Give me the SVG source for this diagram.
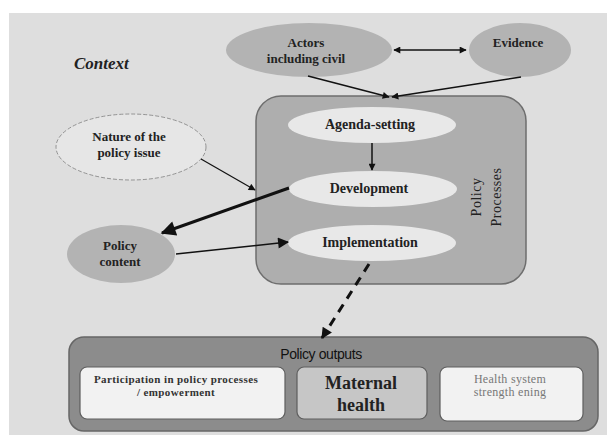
<svg xmlns="http://www.w3.org/2000/svg" width="615" height="435" viewBox="0 0 615 435">
<defs>
<style>
.serif{font-family:"Liberation Serif","Times New Roman",serif;}
.b{font-weight:bold;}
.t13{font-size:13px;}
.t14{font-size:14px;}
.oval{fill:#b3b3b3;stroke:none;}
.inner{fill:#e8e8e8;stroke:none;}
.conn{fill:none;stroke:#111;}
</style>
<marker id="sm" viewBox="0 0 10 10" refX="9" refY="5" markerWidth="8" markerHeight="7" markerUnits="userSpaceOnUse" orient="auto-start-reverse">
<path d="M0,0 L10,5 L0,10 z" fill="#111"/>
</marker>
<marker id="md" viewBox="0 0 10 10" refX="9" refY="5" markerWidth="14" markerHeight="11" markerUnits="userSpaceOnUse" orient="auto">
<path d="M0,0 L10,5 L0,10 z" fill="#111"/>
</marker>
<marker id="lg" viewBox="0 0 10 10" refX="9" refY="5" markerWidth="18" markerHeight="15" markerUnits="userSpaceOnUse" orient="auto">
<path d="M0,0 L10,5 L0,10 z" fill="#111"/>
</marker>
</defs>
<rect x="0" y="0" width="615" height="435" fill="#ffffff"/>
<rect x="9" y="13" width="598" height="422" fill="#dedede"/>
<text x="74" y="69" class="serif b" font-style="italic" font-size="17" fill="#222">Context</text>

<g id="actors">
<ellipse cx="309" cy="50" rx="83" ry="27" class="oval"/>
<text class="serif b t13" text-anchor="middle" fill="#222"><tspan x="306" y="47">Actors</tspan><tspan x="306" y="63">including  civil</tspan></text>
</g>
<g id="evidence">
<ellipse cx="520" cy="50" rx="51" ry="27" class="oval"/>
<text x="518" y="47" class="serif b t13" text-anchor="middle" fill="#222">Evidence</text>
</g>

<g id="policy-processes">
<rect x="256" y="96" width="270" height="188" rx="25" ry="25" fill="#aeaeae" stroke="#6e6e6e" stroke-width="1.5"/>
<text class="serif t14" text-anchor="middle" fill="#222" transform="translate(481,197) rotate(-90)" letter-spacing="0.5"><tspan x="0" y="0">Policy</tspan><tspan x="0" y="20">Processes</tspan></text>
</g>
<g id="agenda">
<ellipse cx="372" cy="125" rx="84" ry="18" class="inner"/>
<text x="370" y="129" class="serif b t14" text-anchor="middle" fill="#222">Agenda-setting</text>
</g>
<g id="development">
<ellipse cx="373" cy="189" rx="84" ry="18" class="inner"/>
<text x="369" y="193" class="serif b t14" text-anchor="middle" fill="#222">Development</text>
</g>
<g id="implementation">
<ellipse cx="372" cy="243" rx="84" ry="18" class="inner"/>
<text x="370" y="247" class="serif b t14" text-anchor="middle" fill="#222">Implementation</text>
</g>

<g id="nature">
<ellipse cx="131" cy="147" rx="75" ry="33" fill="#e6e6e6" stroke="#8a8a8a" stroke-width="0.9" stroke-dasharray="4,2"/>
<text class="serif b t13" text-anchor="middle" fill="#222"><tspan x="129" y="141">Nature of the</tspan><tspan x="129" y="157">policy issue</tspan></text>
</g>
<g id="policy-content">
<ellipse cx="121" cy="254" rx="54" ry="29" class="oval"/>
<text class="serif b t13" text-anchor="middle" fill="#222"><tspan x="120" y="250">Policy</tspan><tspan x="120" y="266">content</tspan></text>
</g>

<g id="policy-outputs">
<rect x="69" y="337" width="529" height="94" rx="15" ry="15" fill="#8c8c8c" stroke="#666" stroke-width="1.5"/>
<text x="321" y="359" font-family="'Liberation Sans',Arial,sans-serif" font-size="14" text-anchor="middle" fill="#111" letter-spacing="-0.4">Policy outputs</text>
</g>
<g id="participation">
<rect x="80" y="367" width="205" height="52" rx="7" ry="7" fill="#f2f2f2" stroke="#5e5e5e" stroke-width="1.2"/>
<text class="serif b" font-size="11" letter-spacing="0.4" text-anchor="middle" fill="#333"><tspan x="176" y="383">Participation in policy processes</tspan><tspan x="176" y="396">/ empowerment</tspan></text>
</g>
<g id="maternal">
<rect x="297" y="367" width="130" height="52" rx="7" ry="7" fill="#c6c6c6" stroke="#5e5e5e" stroke-width="1.2"/>
<text class="serif b" font-size="18" text-anchor="middle" fill="#222"><tspan x="361" y="389">Maternal</tspan><tspan x="361" y="411">health</tspan></text>
</g>
<g id="hss">
<rect x="440" y="367" width="143" height="54" rx="7" ry="7" fill="#f2f2f2" stroke="#5e5e5e" stroke-width="1.2"/>
<text class="serif" font-size="12" letter-spacing="0.3" text-anchor="middle" fill="#777"><tspan x="510" y="383">Health system</tspan><tspan x="510" y="396">strength ening</tspan></text>
</g>

<g id="connectors">
<line x1="394" y1="50" x2="466" y2="50" class="conn" stroke-width="1.6" marker-start="url(#sm)" marker-end="url(#sm)"/>
<line x1="308" y1="76" x2="389" y2="97" class="conn" stroke-width="1.5" marker-end="url(#sm)"/>
<line x1="521" y1="77" x2="392" y2="97" class="conn" stroke-width="1.5" marker-end="url(#sm)"/>
<line x1="372" y1="143" x2="372" y2="170" class="conn" stroke-width="1.5" marker-end="url(#sm)"/>
<line x1="201" y1="159" x2="255" y2="190" class="conn" stroke-width="1.2" marker-end="url(#sm)"/>
<line x1="289" y1="188" x2="162" y2="233" class="conn" stroke-width="3" marker-end="url(#lg)"/>
<line x1="176" y1="254" x2="288" y2="242" class="conn" stroke-width="1.5" marker-end="url(#md)"/>
<line x1="369" y1="264" x2="322" y2="338" class="conn" stroke-width="3" stroke-dasharray="9,7" marker-end="url(#md)"/>
</g>
</svg>
